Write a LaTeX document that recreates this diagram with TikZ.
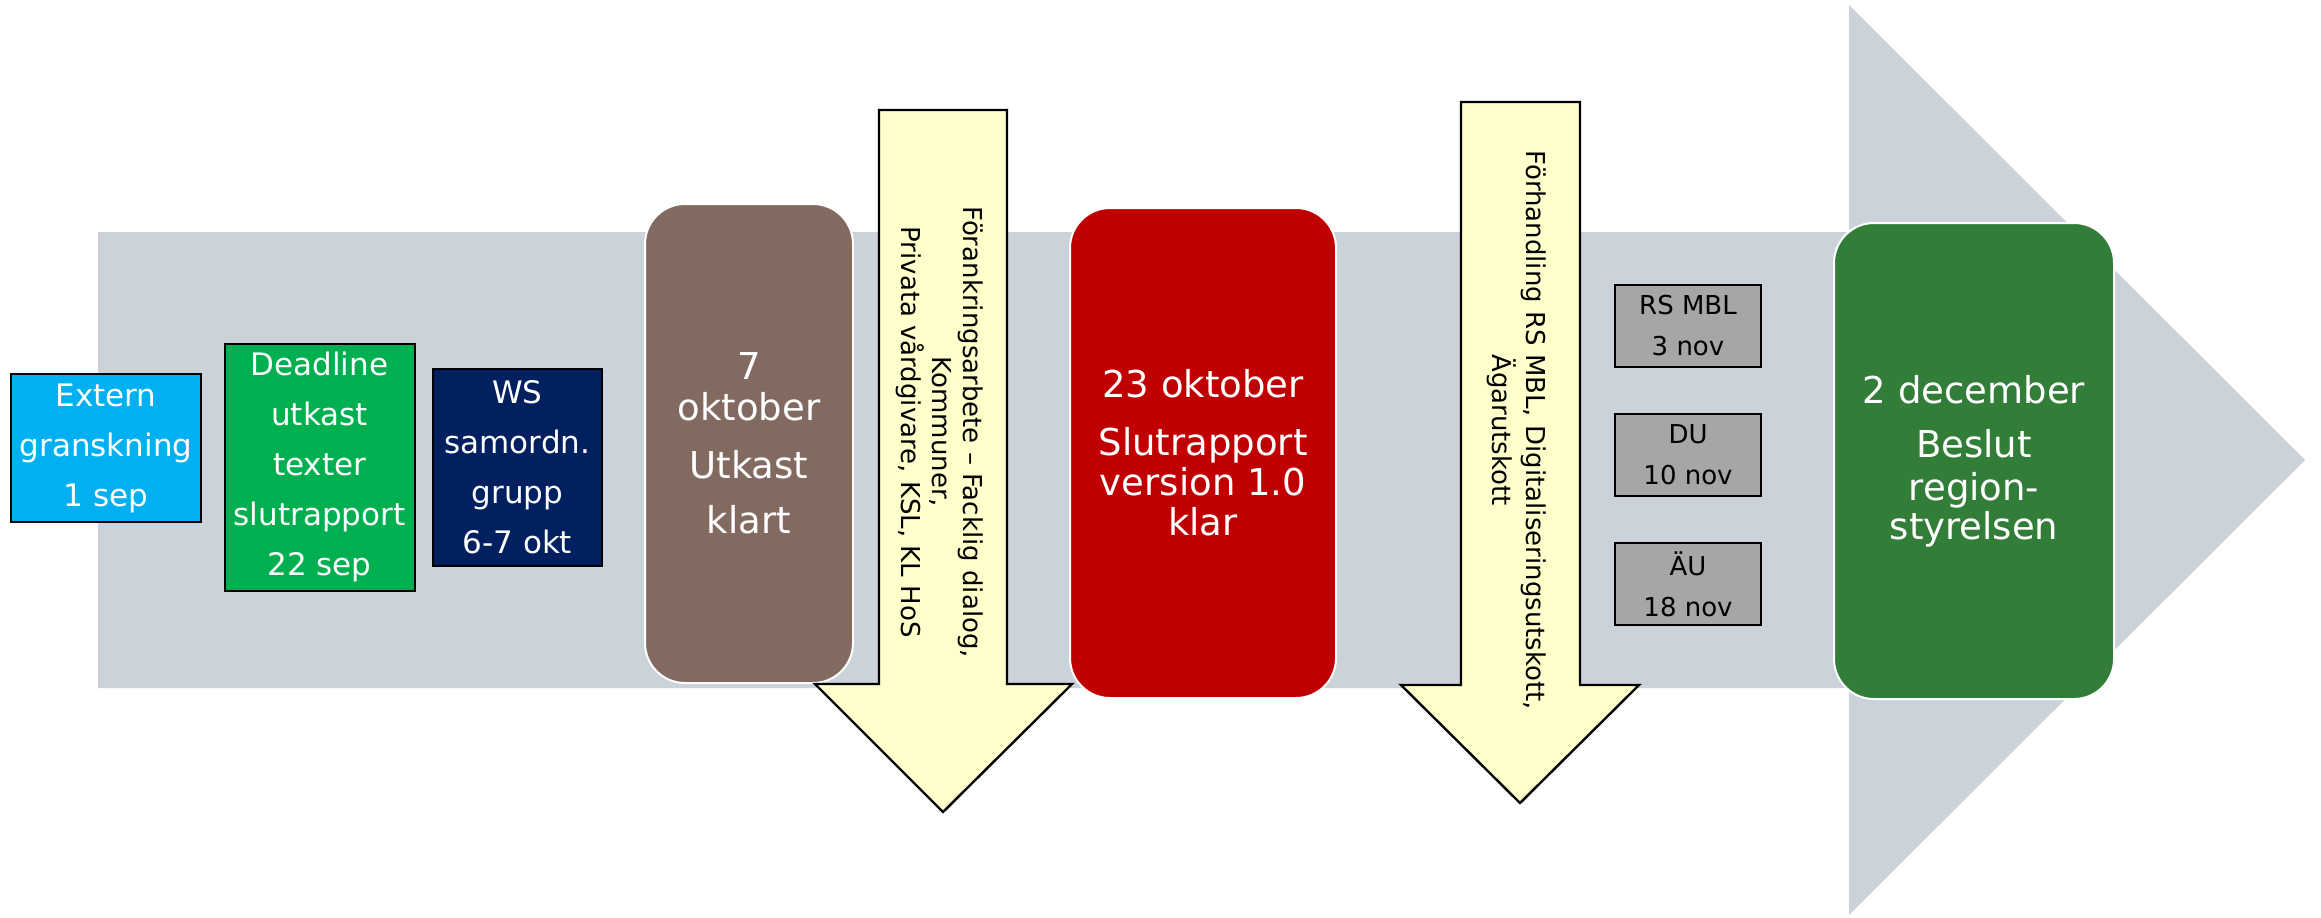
\documentclass[tikz,border=0pt]{standalone}
\usepackage{fontspec}
\setmainfont{DejaVu Sans}
\usetikzlibrary{positioning}

\definecolor{timeline}{RGB}{203,210,218}
\definecolor{externblue}{HTML}{00B0F0}
\definecolor{deadlinegreen}{HTML}{00B050}
\definecolor{wsnavy}{HTML}{002060}
\definecolor{utkastbrown}{RGB}{130,106,97}
\definecolor{slutred}{HTML}{C00000}
\definecolor{beslutgreen}{RGB}{50,125,56}
\definecolor{forankyellow}{HTML}{FFFFCC}
\definecolor{motegrey}{HTML}{A6A6A6}

\tikzset{
  stepbox/.style={draw=black, line width=1pt, rectangle, inner sep=0pt,
    align=center, text=white, font=\fontsize{15.5}{25}\selectfont},
  milestone/.style={draw=white, line width=1pt, rounded corners=20pt,
    inner sep=0pt, align=center, text=white, font=\fontsize{18.5}{20}\selectfont},
  meeting/.style={draw=black, line width=1pt, fill=motegrey, inner sep=0pt,
    align=center, minimum width=72.75pt, minimum height=41pt,
    font=\fontsize{13}{20.5}\selectfont},
  blockarrow/.style={fill=forankyellow, draw=black, line width=1.2pt},
  arrowtext/.style={rotate=-90, align=center, font=\fontsize{13}{15.5}\selectfont}
}

\begin{document}
\begin{tikzpicture}[x=0.5pt, y=-0.5pt, node distance=22.5pt]
\useasboundingbox (0,0) rectangle (2321,917);

% timeline arrow
\fill[timeline] (98,232) -- (1849,232) -- (1849,5) -- (2305,460)
  -- (1849,915) -- (1849,688) -- (98,688) -- cycle;

% early steps
\node (extern) [stepbox, fill=externblue, minimum width=95pt, minimum height=74pt]
  at (106,448) {Extern\\granskning\\1 sep};
\node (deadline) [stepbox, fill=deadlinegreen, minimum width=95pt, minimum height=123.3pt,
  right=10.75pt of extern, yshift=-9.7pt] {Deadline\\utkast\\texter\\slutrapport\\22 sep};
\node (ws) [stepbox, fill=wsnavy, minimum width=84.5pt, minimum height=98.5pt,
  right=8.2pt of deadline] {WS\\samordn.\\grupp\\6-7 okt};

% milestones
\node (utkast) [milestone, fill=utkastbrown, minimum width=104pt, minimum height=239.5pt]
  at (749,443.5) {7\\[0.5pt]oktober\\[9pt]Utkast\\[7.5pt]klart};
\node (slutrapport) [milestone, fill=slutred, minimum width=133pt, minimum height=245pt]
  at (1203,453) {23 oktober\\[9pt]Slutrapport\\version 1.0\\klar};
\node (beslut) [milestone, fill=beslutgreen, minimum width=140pt, minimum height=238pt]
  at (1974,461) {2 december\\[7pt]Beslut\\[1.5pt]region-\\[-0.5pt]styrelsen};

% meetings
\node (rsmbl) [meeting] at (1688,326) {RS MBL\\3 nov};
\node (du) [meeting, below=of rsmbl] {DU\\10 nov};
\node (au) [meeting, below=of du] {ÄU\\18 nov};

% yellow arrows
\draw[blockarrow] (879,110) -- (1007,110) -- (1007,684) -- (1072,684)
  -- (943,812) -- (815,684) -- (879,684) -- cycle;
\node (forankring) [arrowtext] at (940,432)
  {Förankringsarbete – Facklig dialog,\\Kommuner,\\Privata vårdgivare, KSL, KL HoS};

\draw[blockarrow] (1461,102) -- (1580,102) -- (1580,685) -- (1639,685)
  -- (1520,803) -- (1401,685) -- (1461,685) -- cycle;
\node (forhandling) [arrowtext, font=\fontsize{13}{17}\selectfont] at (1517,430)
  {Förhandling RS MBL, Digitaliseringsutskott,\\Ägarutskott};
\end{tikzpicture}
\end{document}
